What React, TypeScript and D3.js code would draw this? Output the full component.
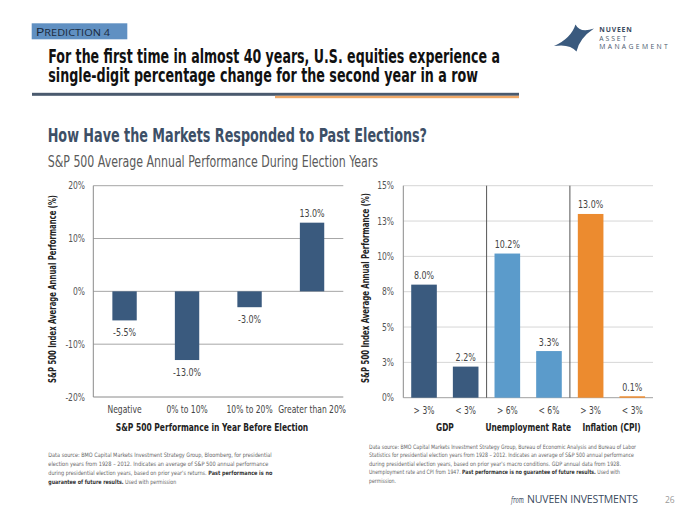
import React from "react";
import * as d3 from "d3";

const leftCategories = ["Negative", "0% to 10%", "10% to 20%", "Greater than 20%"];
const leftValues = [-5.5, -13.0, -3.0, 13.0];
const leftTicks = [-20, -10, 0, 10, 20];
const leftTickLabels = ["-20%", "-10%", "0%", "10%", "20%"];

const rightCategories = ["> 3%", "< 3%", "> 6%", "< 6%", "> 3%", "< 3%"];
const rightValues = [8.0, 2.2, 10.2, 3.3, 13.0, 0.1];
const rightGroupOf = [0, 0, 1, 1, 2, 2];
const rightGroups = ["GDP", "Unemployment Rate", "Inflation (CPI)"];
const rightTicks = [0, 2.5, 5, 7.5, 10, 12.5, 15];
const rightTickLabels = ["0%", "3%", "5%", "8%", "10%", "13%", "15%"];

const COND = "'DejaVu Sans Condensed', 'Liberation Sans Narrow', 'Open Sans', sans-serif";
const SANS = "'Open Sans', 'Liberation Sans', sans-serif";
const groupColors = ["#3a5a7e", "#5b9bcb", "#ec8b2f"];

type TProps = {
  x: number;
  y: number;
  sx?: number;
  anchor?: "start" | "middle" | "end";
  size?: number;
  weight?: string;
  fill?: string;
  rotate?: number;
  children: React.ReactNode;
};

function T({ x, y, sx = 0.82, anchor = "middle", size = 10, weight = "normal", fill = "#444", rotate = 0, children }: TProps) {
  return (
    <text
      transform={`translate(${x},${y}) rotate(${rotate}) scale(${sx},1)`}
      textAnchor={anchor}
      fontFamily={COND}
      fontSize={size}
      fontWeight={weight}
      fill={fill}
    >
      {children}
    </text>
  );
}

export default function App() {
  const lx = d3.scaleBand<string>().domain(leftCategories).range([93.3, 343.3]).paddingInner(0.61).paddingOuter(0.305);
  const ly = d3.scaleLinear().domain([-20, 20]).range([397, 185.7]);
  const rIdx = rightCategories.map((_, i) => String(i));
  const rx = d3.scaleBand<string>().domain(rIdx).range([403.3, 653]).paddingInner(0.385).paddingOuter(0.19);
  const ry = d3.scaleLinear().domain([0, 15]).range([397.7, 185.7]);
  const rStep = rx.step();
  const rStart = 403.3;

  const starPath = "M554,46 Q571,38.5 575.5,24.5 Q580,33.5 594,28.5 Q579.5,38 576.5,51.5 Q570,43.5 554,46 Z";

  return (
    <svg width={700} height={525} style={{ display: "block", position: "absolute", left: 0, top: 0, background: "#fff" }}>
      <rect x={0} y={0} width={700} height={525} fill="#fff" />
      {/* header tag */}
      <rect x={31.7} y={23.3} width={95.6} height={16} fill="#6090c2" />
      <text x={35.7} y={36} fontFamily={SANS} fill="#1b2a3c" textLength={74.3} lengthAdjust="spacingAndGlyphs">
        <tspan fontSize={11}>P</tspan>
        <tspan fontSize={8.4}>REDICTION 4</tspan>
      </text>
      {/* title */}
      <text x={48.3} y={63} fontFamily={COND} fontWeight="bold" fontSize={20} fill="#111" textLength={451.7} lengthAdjust="spacingAndGlyphs">
        For the first time in almost 40 years, U.S. equities experience a
      </text>
      <text x={48.3} y={81.5} fontFamily={COND} fontWeight="bold" fontSize={20} fill="#111" textLength={429.7} lengthAdjust="spacingAndGlyphs">
        single-digit percentage change for the second year in a row
      </text>
      <rect x={32} y={92.8} width={487} height={3} fill="#4a5a6e" />
      <rect x={275} y={95.8} width={244} height={2.4} fill="#efa867" />

      {/* logo */}
      <path d={starPath} fill="#3a5a7e" />
      <text x={599.3} y={32.3} fontFamily={SANS} fontWeight="bold" fontSize={6.8} fill="#3a4a5e" textLength={32.4} lengthAdjust="spacing">NUVEEN</text>
      <text x={599.3} y={40.7} fontFamily={SANS} fontSize={6.8} fill="#4a5a6e" textLength={27} lengthAdjust="spacing">ASSET</text>
      <text x={599.3} y={49.3} fontFamily={SANS} fontSize={6.8} fill="#4a5a6e" textLength={68.4} lengthAdjust="spacing">MANAGEMENT</text>

      {/* section headings */}
      <text x={47.7} y={141.5} fontFamily={COND} fontWeight="bold" fontSize={19} fill="#3d4f66" textLength={379.3} lengthAdjust="spacingAndGlyphs">
        How Have the Markets Responded to Past Elections?
      </text>
      <text x={47.7} y={166.5} fontFamily={COND} fontSize={15.5} fill="#5a5a5a" textLength={330.3} lengthAdjust="spacingAndGlyphs">
        S&amp;P 500 Average Annual Performance During Election Years
      </text>

      {/* LEFT CHART */}
      {leftTicks.map((t, i) => (
        <g key={"lt" + i}>
          <line x1={93.3} x2={343.3} y1={ly(t)} y2={ly(t)} stroke={t === -20 ? "#8a8a8a" : "#a6a6a6"} strokeWidth={1} />
          <T x={85} y={ly(t) + 3.6} anchor="end" size={10.3} fill="#555">{leftTickLabels[i]}</T>
        </g>
      ))}
      <line x1={93.3} x2={93.3} y1={185.7} y2={397} stroke="#8a8a8a" strokeWidth={1} />
      {leftCategories.map((c, i) => {
        const v = leftValues[i];
        const x = lx(c)!;
        const y0 = ly(0);
        const y1 = ly(v);
        const cx = x + lx.bandwidth() / 2;
        return (
          <g key={"lb" + i}>
            <rect x={x} y={Math.min(y0, y1)} width={lx.bandwidth()} height={Math.abs(y1 - y0)} fill="#3a5a7e" />
            <T x={cx} y={v >= 0 ? y1 - 5.5 : y1 + 15.5} size={10.8} fill="#444">{v.toFixed(1) + "%"}</T>
            <T x={cx} y={412.8} size={10.3} fill="#444">{c}</T>
          </g>
        );
      })}
      <T x={212} y={430.5} size={10.5} weight="bold" fill="#222" sx={0.8}>S&amp;P 500 Performance in Year Before Election</T>
      <text transform="translate(55.5,289) rotate(-90)" textAnchor="middle" fontFamily={COND} fontWeight="bold" fontSize={10.5} fill="#222" textLength={188} lengthAdjust="spacingAndGlyphs">
        S&amp;P 500 Index Average Annual Performance (%)
      </text>

      {/* RIGHT CHART */}
      {rightTicks.map((t, i) => (
        <g key={"rt" + i}>
          <line x1={403.3} x2={653} y1={ry(t)} y2={ry(t)} stroke={t === 0 ? "#a0a0a0" : "#d6d6d6"} strokeWidth={1} />
          <T x={394} y={ry(t) + 3.6} anchor="end" size={10.3} fill="#555">{rightTickLabels[i]}</T>
        </g>
      ))}
      <line x1={403.3} x2={403.3} y1={185.7} y2={397.7} stroke="#8a8a8a" strokeWidth={1} />
      {[1, 2].map((g) => (
        <line key={"sep" + g} x1={rStart + rStep * 2 * g} x2={rStart + rStep * 2 * g} y1={185.7} y2={397.7} stroke="#555" strokeWidth={1} />
      ))}
      {rightCategories.map((c, i) => {
        const v = rightValues[i];
        const x = rx(String(i))!;
        const y1 = ry(v);
        const y0 = ry(0);
        const cx = x + rx.bandwidth() / 2;
        return (
          <g key={"rb" + i}>
            <rect x={x} y={y1} width={rx.bandwidth()} height={Math.max(y0 - y1, 1.5)} fill={groupColors[rightGroupOf[i]]} />
            <T x={cx} y={y1 - 5.5} size={10.8} fill="#444">{v.toFixed(1) + "%"}</T>
            <T x={cx} y={413.5} size={10.3} fill="#444">{c}</T>
          </g>
        );
      })}
      {rightGroups.map((g, gi) => (
        <T key={"rg" + gi} x={rStart + rStep * (2 * gi + 1)} y={430.5} size={10.5} weight="bold" fill="#222" sx={0.79}>{g}</T>
      ))}
      <text transform="translate(368.5,288) rotate(-90)" textAnchor="middle" fontFamily={COND} fontWeight="bold" fontSize={10.5} fill="#222" textLength={190} lengthAdjust="spacingAndGlyphs">
        S&amp;P 500 Index Average Annual Performance (%)
      </text>

      {/* footnotes left */}
      <g fontFamily={COND} fontSize={6} fill="#666">
        <text x={48.3} y={457} textLength={223.4} lengthAdjust="spacingAndGlyphs">Data source: BMO Capital Markets Investment Strategy Group, Bloomberg, for presidential</text>
        <text x={48.3} y={466} textLength={220} lengthAdjust="spacingAndGlyphs">election years from 1928 – 2012. Indicates an average of S&amp;P 500 annual performance</text>
        <text x={48.3} y={475} textLength={224} lengthAdjust="spacingAndGlyphs">during presidential election years, based on prior year's returns. <tspan fontWeight="bold" fill="#333">Past performance is no</tspan></text>
        <text x={48.3} y={484} textLength={128} lengthAdjust="spacingAndGlyphs"><tspan fontWeight="bold" fill="#333">guarantee of future results.</tspan> Used with permission</text>
      </g>
      {/* footnotes right */}
      <g fontFamily={COND} fontSize={6} fill="#666">
        <text x={369} y={448.5} textLength={267} lengthAdjust="spacingAndGlyphs">Data source: BMO Capital Markets Investment Strategy Group, Bureau of Economic Analysis and Bureau of Labor</text>
        <text x={369} y={457} textLength={265} lengthAdjust="spacingAndGlyphs">Statistics for presidential election years from 1928 – 2012. Indicates an average of S&amp;P 500 annual performance</text>
        <text x={369} y={465.7} textLength={252} lengthAdjust="spacingAndGlyphs">during presidential election years, based on prior year's macro conditions. GDP annual data from 1928.</text>
        <text x={369} y={474.3} textLength={251} lengthAdjust="spacingAndGlyphs">Unemployment rate and CPI from 1947. <tspan fontWeight="bold" fill="#333">Past performance is no guarantee of future results.</tspan> Used with</text>
        <text x={369} y={483} textLength={27} lengthAdjust="spacingAndGlyphs">permission.</text>
      </g>

      {/* footer */}
      <text x={511} y={502.5} fontFamily="'DejaVu Serif', 'Liberation Serif', serif" fontStyle="italic" fontSize={9.5} fill="#3a4a5e" textLength={13} lengthAdjust="spacingAndGlyphs">from</text>
      <text x={527} y={502.5} fontFamily={SANS} fontSize={10.5} fill="#3a4a5e" textLength={111} lengthAdjust="spacing">NUVEEN INVESTMENTS</text>
      <text x={665} y={502.5} fontFamily={SANS} fontSize={8.5} fill="#999">26</text>
    </svg>
  );
}
